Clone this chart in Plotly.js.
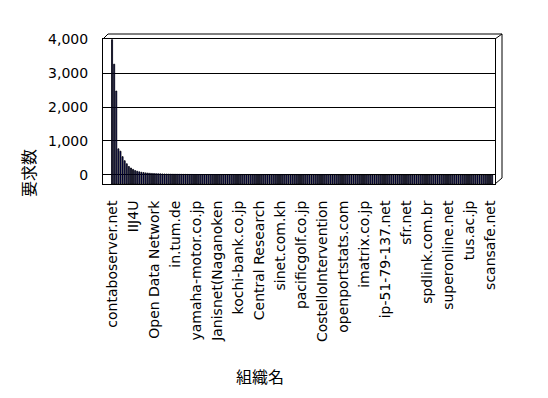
<!DOCTYPE html>
<html>
<head>
<meta charset="utf-8">
<script src="https://cdn.plot.ly/plotly-3.0.1.min.js"></script>
<style>html,body{margin:0;padding:0;background:#fff;}#chart{width:548px;height:398px;}</style>
</head>
<body>
<div id="chart"></div>
<script>
// Tick labels shown on the category axis (every 10th organisation)
const tickLabels = ["contaboserver.net","IIJ4U","Open Data Network","in.tum.de","yamaha-motor.co.jp",
  "Janisnet(Naganoken","kochi-bank.co.jp","Central Research","sinet.com.kh","pacificgolf.co.jp",
  "CostelloIntervention","openportstats.com","imatrix.co.jp","ip-51-79-137.net","sfr.net",
  "spdlink.com.br","superonline.net","tus.ac.jp","scansafe.net"];
const labelEvery = 10;

// Request counts per organisation (ranked)
const requests = [
  3980,3260,2470,770,700,540,420,330,250,205,
  165,130,110,92,80,70,62,56,50,46,
  42,39,36,33,31,29,27,25,24,23,
  22,21,20,19,18,18,17,16,16,15,
  15,14,14,13,13,12,12,12,11,11,
  11,10,10,10,10,9,9,9,9,9,
  8,8,8,8,8,8,7,7,7,7,
  7,7,7,6,6,6,6,6,6,6,
  6,6,5,5,5,5,5,5,5,5,
  5,5,5,4,4,4,4,4,4,4,
  4,4,4,4,4,4,4,4,3,3,
  3,3,3,3,3,3,3,3,3,3,
  3,3,3,3,3,3,3,3,3,3,
  3,3,3,3,2,2,2,2,2,2,
  2,2,2,2,2,2,2,2,2,2,
  2,2,2,2,2,2,2,2,2,2,
  2,2,2,2,2,2,2,2,2,2,
  2,2,2,2,1,1,1,1,1,1,
  1,1
];

const yTicks = [0,1000,2000,3000,4000];
const FLOOR = -265; // 3D floor depth below the back-wall zero line

const rank = requests.map((_, i) => i);
const tickVals = tickLabels.map((_, i) => i * labelEvery);

const FONT = '"DejaVu Sans", sans-serif';
const CJK = '"Noto Sans CJK JP", sans-serif';

// plot-area pixel frame helpers for decorative 3D wall edges
const L = 103, R = 495, T = 39, B = 184;
const px = x => (x - L) / (R - L);
const py = y => (B - y) / (B - T);
function seg(x0, y0, x1, y1) {
  return {type: 'line', xref: 'paper', yref: 'paper', x0: px(x0), y0: py(y0), x1: px(x1), y1: py(y1),
          line: {color: '#000', width: 1}};
}
const shapes = [
  seg(103, 39, 108, 34), seg(108, 34, 502, 34), seg(495, 39, 502, 34),
  seg(502, 34, 502, 178), seg(495, 184, 502, 178)
];

const trace = {
  type: 'bar',
  x: rank,
  y: requests.map(v => v - FLOOR),
  base: FLOOR,
  customdata: requests,
  hovertemplate: '%{customdata}<extra></extra>',
  marker: {color: '#000080', line: {color: '#000', width: 0.8}}
};

const layout = {
  width: 548, height: 398,
  margin: {l: L, r: 548 - R, t: T, b: 398 - B, pad: 0},
  paper_bgcolor: '#fff', plot_bgcolor: '#fff',
  showlegend: false,
  bargap: 0.5,
  font: {family: FONT, color: '#000', size: 14},
  xaxis: {
    range: [-4.31, 182.36],
    tickmode: 'array', tickvals: tickVals, ticktext: tickLabels,
    tickangle: -90,
    ticks: 'outside', ticklen: 10, tickcolor: 'rgba(0,0,0,0)',
    tickfont: {family: FONT, size: 14, color: '#000'},
    showgrid: false, zeroline: false,
    showline: true, linecolor: '#000', linewidth: 1, mirror: true
  },
  yaxis: {
    range: [FLOOR, 4000],
    tickmode: 'array', tickvals: yTicks,
    tickformat: ',d',
    ticks: 'outside', ticklen: 11, tickcolor: 'rgba(0,0,0,0)',
    tickfont: {family: FONT, size: 14, color: '#000'},
    showgrid: true, gridcolor: '#000', gridwidth: 1,
    zeroline: false,
    showline: true, linecolor: '#000', linewidth: 1, mirror: true
  },
  shapes: shapes,
  annotations: [
    {text: '要求数', xref: 'paper', yref: 'paper', x: px(28), y: py(173), textangle: -90,
     showarrow: false, font: {family: CJK, size: 16, color: '#000'}, xanchor: 'center', yanchor: 'middle'},
    {text: '組織名', xref: 'paper', yref: 'paper', x: px(260), y: py(376),
     showarrow: false, font: {family: CJK, size: 16, color: '#000'}, xanchor: 'center', yanchor: 'middle'}
  ]
};

Plotly.newPlot('chart', [trace], layout, {displayModeBar: false, staticPlot: true});
</script>
</body>
</html>
